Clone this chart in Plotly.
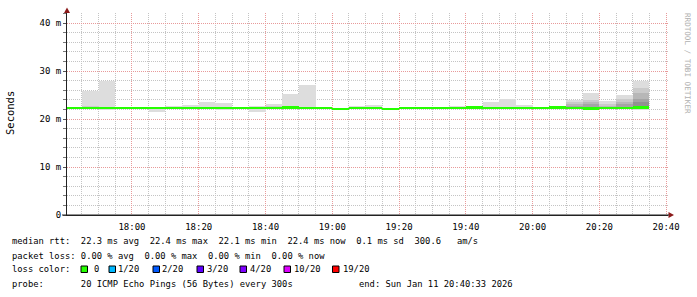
import plotly.graph_objects as go
import pandas as pd

# ---------------- data (milliseconds) ----------------
period_end = pd.date_range("2026-01-11 17:45:00", "2026-01-11 20:35:00", freq="5min")

median_ms = [22.3, 22.3, 22.3, 22.3, 22.3, 22.3, 22.3, 22.3, 22.3, 22.3,
             22.3, 22.3, 22.3, 22.4, 22.3, 22.3, 22.1, 22.3, 22.3, 22.1,
             22.3, 22.3, 22.3, 22.3, 22.4, 22.3, 22.3, 22.3, 22.3, 22.4,
             22.3, 22.2, 22.3, 22.3, 22.4]
smoke_min_ms = [22.0, 22.0, 21.8, 22.0, 22.0, 21.5, 22.0, 22.0, 22.0, 21.9,
                22.0, 21.5, 22.0, 22.0, 22.0, 22.0, 21.8, 22.0, 22.0, 21.8,
                22.0, 22.0, 22.0, 22.0, 22.0, 22.0, 22.0, 22.0, 22.0, 22.0,
                22.0, 21.9, 22.0, 22.0, 21.9]
smoke_max_ms = [22.5, 25.9, 27.9, 22.5, 22.5, 22.4, 22.7, 22.9, 23.6, 23.4,
                22.5, 22.7, 23.1, 25.2, 27.1, 22.5, 22.4, 22.7, 22.9, 22.3,
                22.5, 22.5, 22.5, 22.7, 22.7, 23.6, 24.2, 22.9, 22.6, 22.7,
                24.0, 25.5, 23.75, 25.0, 27.9]
# inner smoke layers (upper edge), None where not visible
smoke_l2_ms = [None, 22.7, None, None, None, None, None, None, None, None,
               None, None, 22.6, 22.6, None, None, None, None, None, None,
               None, None, None, None, None, None, None, None, None, None,
               23.5, 24.0, 23.1, 24.2, 26.5]
smoke_l3_ms = [None] * 30 + [23.1, 23.5, 22.7, 23.5, 25.5]
smoke_l4_ms = [None] * 30 + [22.7, 23.1, None, 23.1, 24.2]
smoke_l5_ms = [None] * 30 + [None, 22.6, None, None, 23.5]
smoke_l6_ms = [None] * 34 + [22.75]

y_tickvals = [0, 0.01, 0.02, 0.03, 0.04]
y_ticktext = ["0", "10 m", "20 m", "30 m", "40 m"]

legend_line1 = "median rtt:  22.3 ms avg  22.4 ms max  22.1 ms min  22.4 ms now  0.1 ms sd  300.6   am/s"
legend_line2 = "packet loss: 0.00 % avg  0.00 % max  0.00 % min  0.00 % now"
legend_line3 = "loss color:"
legend_line4 = "probe:       20 ICMP Echo Pings (56 Bytes) every 300s"
legend_end = "end: Sun Jan 11 20:40:33 2026"
loss_labels = ["0", "1/20", "2/20", "3/20", "4/20", "10/20", "19/20"]
loss_colors = ["#26ff00", "#00b8ff", "#0059ff", "#5e00ff", "#7e00ff", "#dd00ff", "#ff0000"]

# ---------------- geometry ----------------
W_IMG, H_IMG = 697, 297
L, R, T, B = 67, 668, 13, 215
PW, PH = R - L, B - T


def px(x):
    return (x - L) / PW


def py(y):
    return (B - y) / PH


x_start = pd.Timestamp("2026-01-11 17:40:33")
x_end = pd.Timestamp("2026-01-11 20:40:33")
centers = period_end - pd.Timedelta(seconds=150)
BAR_W = 300000

fig = go.Figure()

layer_colors = ["#dddddd", "#cacaca", "#b7b7b7", "#a4a4a4", "#919191", "#7e7e7e"]

# outer smoke: min..max
fig.add_trace(go.Bar(
    x=centers, base=[v / 1000 for v in smoke_min_ms],
    y=[(hi - lo) / 1000 for hi, lo in zip(smoke_max_ms, smoke_min_ms)],
    width=BAR_W, marker=dict(color=layer_colors[0], line=dict(width=0)),
    showlegend=False, hoverinfo="skip"))

for layer, col in zip([smoke_l2_ms, smoke_l3_ms, smoke_l4_ms, smoke_l5_ms, smoke_l6_ms], layer_colors[1:]):
    bases, heights = [], []
    for top, med in zip(layer, median_ms):
        if top is None:
            bases.append(None)
            heights.append(None)
        else:
            bases.append(med / 1000)
            heights.append((top - med) / 1000)
    fig.add_trace(go.Bar(
        x=centers, base=bases, y=heights, width=BAR_W,
        marker=dict(color=col, line=dict(width=0)),
        showlegend=False, hoverinfo="skip"))

# median line (coloured by loss: 0 -> green)
MED_H = 0.00056
fig.add_trace(go.Bar(
    x=centers, base=[m / 1000 - MED_H / 2 for m in median_ms],
    y=[MED_H] * len(median_ms), width=BAR_W,
    marker=dict(color=loss_colors[0], line=dict(width=0)),
    showlegend=False, hoverinfo="skip"))

MONO = "DejaVu Sans Mono"
MINOR_GRID = "#c4c4c4"
MAJOR_GRID = "#e89a9a"

fig.update_layout(
    width=W_IMG, height=H_IMG,
    margin=dict(l=L, r=W_IMG - R, t=T, b=H_IMG - B, pad=0),
    paper_bgcolor="white", plot_bgcolor="white",
    barmode="overlay", bargap=0, showlegend=False,
    font=dict(family=MONO, size=9, color="black"),
    xaxis=dict(
        type="date", range=[x_start, x_end],
        tick0="2026-01-11 18:00:00", dtick=20 * 60 * 1000, tickformat="%H:%M",
        showgrid=True, gridcolor=MAJOR_GRID, griddash="1px,1px", gridwidth=1,
        showline=True, linecolor="#222222", linewidth=1,
        ticks="outside", ticklen=3, tickcolor="rgba(0,0,0,0)",
        tickfont=dict(family=MONO, size=9, color="black"),
        minor=dict(dtick=5 * 60 * 1000, tick0="2026-01-11 18:00:00",
                   showgrid=True, gridcolor=MINOR_GRID, griddash="1px,1px", gridwidth=1),
        zeroline=False, fixedrange=True),
    yaxis=dict(
        range=[0, 0.0421],
        tickvals=y_tickvals, ticktext=y_ticktext,
        showgrid=True, gridcolor=MAJOR_GRID, griddash="1px,1px", gridwidth=1,
        showline=True, linecolor="#222222", linewidth=1,
        ticks="outside", ticklen=3, tickcolor="#555555",
        tickfont=dict(family=MONO, size=9, color="black"),
        minor=dict(dtick=0.002, tick0=0, showgrid=True, gridcolor=MINOR_GRID,
                   griddash="1px,1px", gridwidth=1, ticks="outside", ticklen=3,
                   tickcolor="#777777"),
        zeroline=False, fixedrange=True),
)

shapes = []
# axis arrows
shapes.append(dict(type="path", xref="paper", yref="paper",
                   path=f"M {px(64)} {py(13)} L {px(70)} {py(13)} L {px(67)} {py(7.5)} Z",
                   fillcolor="#8b1a1a", line=dict(width=0)))
shapes.append(dict(type="path", xref="paper", yref="paper",
                   path=f"M {px(668.5)} {py(212)} L {px(668.5)} {py(218)} L {px(674)} {py(215)} Z",
                   fillcolor="#8b1a1a", line=dict(width=0)))
# x axis extends slightly left of y axis
shapes.append(dict(type="line", xref="paper", yref="paper",
                   x0=px(62), x1=px(669), y0=py(215), y1=py(215),
                   line=dict(color="#222222", width=1)))

annotations = []


def add_text(text, x, y, size=8.8, color="black", anchor="left", angle=0, yanchor="middle"):
    annotations.append(dict(
        text=text.replace(" ", "\u00a0"), xref="paper", yref="paper",
        x=px(x), y=py(y), xanchor=anchor, yanchor=yanchor, showarrow=False,
        textangle=angle, borderpad=0, borderwidth=0,
        font=dict(family=MONO, size=size, color=color)))


add_text(legend_line1, 12, 241)
add_text(legend_line2, 12, 255.5)
add_text(legend_line3, 12, 269)
add_text(legend_line4, 12, 283.5)
add_text(legend_end, 359, 283.5)

box_x = [81, 109, 153, 197, 240, 284, 332.5]
label_x = [93.5, 118, 162, 206.5, 249.5, 293.5, 342.5]
for bx, lx, lab, col in zip(box_x, label_x, loss_labels, loss_colors):
    shapes.append(dict(type="rect", xref="paper", yref="paper",
                       x0=px(bx), x1=px(bx + 6.5), y0=py(272.5), y1=py(266),
                       fillcolor=col, line=dict(color="black", width=1)))
    add_text(lab, lx, 269)

add_text("Seconds", 10, 113, size=10.5, anchor="center", angle=-90)
add_text("RRDTOOL / TOBI OETIKER", 688, 63, size=7.6, color="#b0b0b0", anchor="center", angle=90)

fig.update_layout(shapes=shapes, annotations=annotations)

fig.write_html("out.html")
